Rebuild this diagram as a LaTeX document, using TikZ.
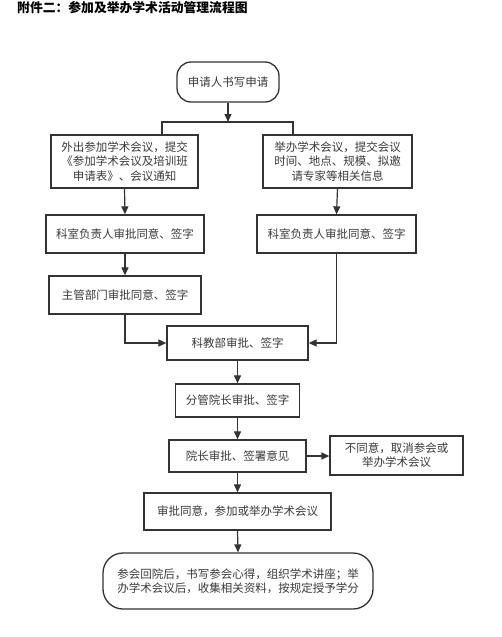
\documentclass[tikz,border=0pt]{standalone}
\usepackage{fontspec}
\setmainfont{Noto Sans CJK SC}
\usetikzlibrary{arrows.meta}
\definecolor{lc}{HTML}{333333}
\definecolor{tc}{HTML}{3A3A3A}
\begin{document}
\begin{tikzpicture}[x=1pt,y=-1pt,
  box/.style={draw=lc,line width=1.3pt,fill=white,rectangle,inner sep=0pt,align=center,text=tc,font=\fontsize{11.5}{14.5}\selectfont},
  rbox/.style={box,rounded corners=14pt},
  arr/.style={draw=lc,line width=1.2pt,-{Triangle[length=8pt,width=7pt]}},
  conn/.style={draw=lc,line width=1.2pt}]
\fill[white] (0,0) rectangle (501,637);
\useasboundingbox (0,0) rectangle (501,637);
\node[anchor=west,inner sep=0pt,font=\fontsize{12.8}{14}\selectfont\bfseries] (T) at (17,8) {附件二：参加及举办学术活动管理流程图};

\node[rbox,minimum width=102pt,minimum height=40pt] (A) at (228,82) {申请人书写申请};
\node[box,minimum width=147pt,minimum height=53pt] (B1) at (124.5,161.5) {外出参加学术会议，提交\\《参加学术会议及培训班\\申请表》、会议通知};
\node[box,minimum width=149pt,minimum height=53pt] (B2) at (337.5,161.5) {举办学术会议，提交会议\\时间、地点、规模、拟邀\\请专家等相关信息};
\node[box,minimum width=158pt,minimum height=38pt] (C1) at (125,234) {科室负责人审批同意、签字};
\node[box,minimum width=159pt,minimum height=38pt] (C2) at (336.5,234) {科室负责人审批同意、签字};
\node[box,minimum width=152pt,minimum height=38pt] (D1) at (125,295) {主管部门审批同意、签字};
\node[box,minimum width=141pt,minimum height=34pt] (E) at (237.5,343) {科教部审批、签字};
\node[box,minimum width=124pt,minimum height=33pt] (F) at (237.5,400.5) {分管院长审批、签字};
\node[box,minimum width=137pt,minimum height=32pt] (G) at (237.5,456) {院长审批、签署意见};
\node[box,minimum width=133pt,minimum height=39pt,font=\fontsize{11.5}{14}\selectfont] (H) at (396.5,455.5) {不同意，取消参会或\\举办学术会议};
\node[box,minimum width=187pt,minimum height=37pt] (I) at (237.5,511.5) {审批同意，参加或举办学术会议};
\node[rbox,rounded corners=20pt,minimum width=270pt,minimum height=56pt,font=\fontsize{11.5}{13.5}\selectfont] (J) at (238,581) {参会回院后，书写参会心得，组织学术讲座；举\\办学术会议后，收集相关资料，按规定授予学分};

\coordinate (bar) at (228,122);
\coordinate (barL) at (162,122);
\coordinate (barR) at (293,122);
\draw[arr] (A.south) -- (bar);
\draw[conn] (B1.north -| barL) -- (barL) -- (barR) -- (B2.north -| barR);
\draw[arr] (B1.south) -- (C1.north);
\draw[arr] (B2.south) -- (C2.north);
\draw[arr] (C1.south) -- (D1.north);
\draw[arr] (D1.south) |- (E.west);
\draw[arr] (C2.south) |- (E.east);
\draw[arr] (E.south) -- (F.north);
\draw[arr] (F.south) -- (G.north);
\draw[arr] (G.east) -- (G.east -| H.west);
\draw[arr] (G.south) -- (I.north);
\draw[arr] (I.south) -- (J.north);
\end{tikzpicture}
\end{document}
